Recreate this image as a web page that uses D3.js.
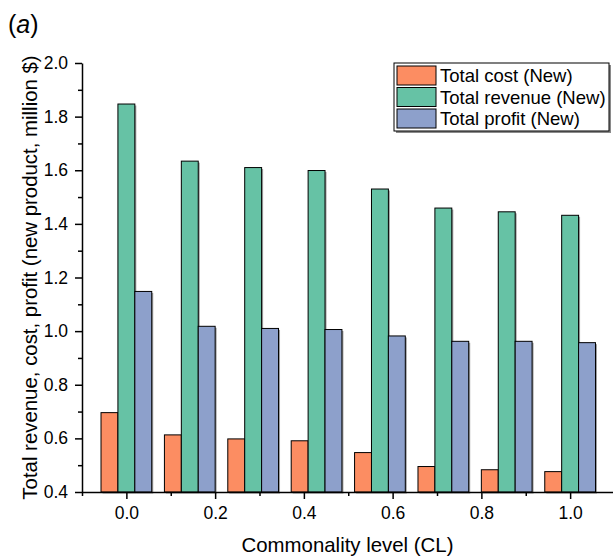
<!DOCTYPE html>
<html>
<head>
<meta charset="utf-8">
<script src="https://cdn.jsdelivr.net/npm/d3@7"></script>
<style>
  html, body { margin: 0; padding: 0; background: #fff; }
  svg { display: block; font-family: "Liberation Sans", Arial, sans-serif; }
</style>
</head>
<body>
<svg id="chart" width="613" height="556"></svg>
<script>
// Commonality level of each scenario
const commonality = [0, 0.1429, 0.2857, 0.4286, 0.5714, 0.7143, 0.8571, 1.0];

// New-product totals, million $
const totalCost    = [0.696, 0.613, 0.598, 0.591, 0.547, 0.495, 0.483, 0.476];
const totalRevenue = [1.847, 1.634, 1.610, 1.599, 1.530, 1.459, 1.445, 1.432];
const totalProfit  = [1.148, 1.018, 1.010, 1.006, 0.982, 0.962, 0.962, 0.957];

const seriesNames  = ["Total cost (New)", "Total revenue (New)", "Total profit (New)"];
const seriesColors = ["#FC8D62", "#66C2A5", "#8DA0CB"];

const xTicks      = [0, 0.2, 0.4, 0.6, 0.8, 1.0];
const xMinorTicks = [-0.1, 0.1, 0.3, 0.5, 0.7, 0.9, 1.1];
const yTicks      = [0.4, 0.6, 0.8, 1.0, 1.2, 1.4, 1.6, 1.8, 2.0];
const yMinorTicks = [0.5, 0.7, 0.9, 1.1, 1.3, 1.5, 1.7, 1.9];

const svg = d3.select("#chart");

const plotLeft = 82, plotRight = 614.5, plotTop = 63, plotBottom = 492;

const x = d3.scaleLinear().domain([-0.1, 1.1]).range([plotLeft, plotRight]);
const y = d3.scaleLinear().domain([0.4, 2.0]).range([plotBottom, plotTop]);

// three bars share 80% of the spacing between scenarios
const groupStep = commonality[1] - commonality[0];
const barW = x(groupStep * 0.8 / 3) - x(0);

const series = [totalCost, totalRevenue, totalProfit];
const bars = [];
series.forEach((vals, si) => {
  vals.forEach((v, i) => {
    bars.push({ si, cl: commonality[i], v });
  });
});

const barX = d => x(d.cl) + (d.si - 1.5) * barW;

// soft drop shadow
svg.append("g").selectAll("rect").data(bars).join("rect")
  .attr("x", d => barX(d) + 1.5)
  .attr("y", d => y(d.v) + 1.5)
  .attr("width", barW)
  .attr("height", d => y(0.4) - y(d.v))
  .attr("fill", "#a0a0a0");

svg.append("g").selectAll("rect").data(bars).join("rect")
  .attr("x", barX)
  .attr("y", d => y(d.v))
  .attr("width", barW)
  .attr("height", d => y(0.4) - y(d.v))
  .attr("fill", d => seriesColors[d.si])
  .attr("stroke", "#000")
  .attr("stroke-width", 1);

// axes
const styleAxis = g => {
  g.select(".domain").attr("stroke", "#000").attr("stroke-width", 1.5);
  g.selectAll(".tick line").attr("stroke", "#000").attr("stroke-width", 1.5);
};

const xAxis = svg.append("g")
  .attr("transform", `translate(0,${plotBottom})`)
  .call(d3.axisBottom(x).tickValues(xTicks).tickSize(7).tickSizeOuter(0)
    .tickPadding(8).tickFormat(d3.format(".1f")))
  .call(styleAxis);
xAxis.selectAll("text").attr("font-size", 17.5).attr("fill", "#000")
  .attr("font-family", "Liberation Sans, Arial, sans-serif");

svg.append("g")
  .attr("transform", `translate(0,${plotBottom})`)
  .call(d3.axisBottom(x).tickValues(xMinorTicks).tickSize(4).tickSizeOuter(0).tickFormat(""))
  .call(g => g.select(".domain").remove())
  .call(styleAxis);

const yAxis = svg.append("g")
  .attr("transform", `translate(${plotLeft},0)`)
  .call(d3.axisLeft(y).tickValues(yTicks).tickSize(7).tickSizeOuter(0)
    .tickPadding(7).tickFormat(d3.format(".1f")))
  .call(styleAxis);
yAxis.selectAll("text").attr("font-size", 17.5).attr("fill", "#000")
  .attr("font-family", "Liberation Sans, Arial, sans-serif");

svg.append("g")
  .attr("transform", `translate(${plotLeft},0)`)
  .call(d3.axisLeft(y).tickValues(yMinorTicks).tickSize(4).tickSizeOuter(0).tickFormat(""))
  .call(g => g.select(".domain").remove())
  .call(styleAxis);

// axis titles
svg.append("text")
  .attr("x", (plotLeft + 613) / 2).attr("y", 552)
  .attr("text-anchor", "middle").attr("font-size", 20.4)
  .text("Commonality level (CL)");

svg.append("text")
  .attr("transform", `translate(37,${(plotTop + plotBottom) / 2}) rotate(-90)`)
  .attr("text-anchor", "middle").attr("font-size", 20.4)
  .text("Total revenue, cost, profit (new product, million $)");

// panel label
const panel = svg.append("text").attr("x", 8).attr("y", 33).attr("font-size", 25);
panel.append("tspan").text("(");
panel.append("tspan").attr("font-style", "italic").text("a");
panel.append("tspan").text(")");

// legend
const lg = svg.append("g").attr("transform", "translate(394,63)");
const lgW = 215, lgH = 68;
lg.append("rect").attr("x", 2).attr("y", 2).attr("width", lgW).attr("height", lgH).attr("fill", "#8a8a8a");
lg.append("rect").attr("width", lgW).attr("height", lgH)
  .attr("fill", "#fff").attr("stroke", "#000").attr("stroke-width", 1);
seriesNames.forEach((name, i) => {
  const row = lg.append("g").attr("transform", `translate(3,${3 + i * 21.5})`);
  row.append("rect").attr("width", 39).attr("height", 19)
    .attr("fill", seriesColors[i]).attr("stroke", "#000").attr("stroke-width", 1);
  row.append("text").attr("x", 43).attr("y", 16).attr("font-size", 18.5).text(name);
});
</script>
</body>
</html>
